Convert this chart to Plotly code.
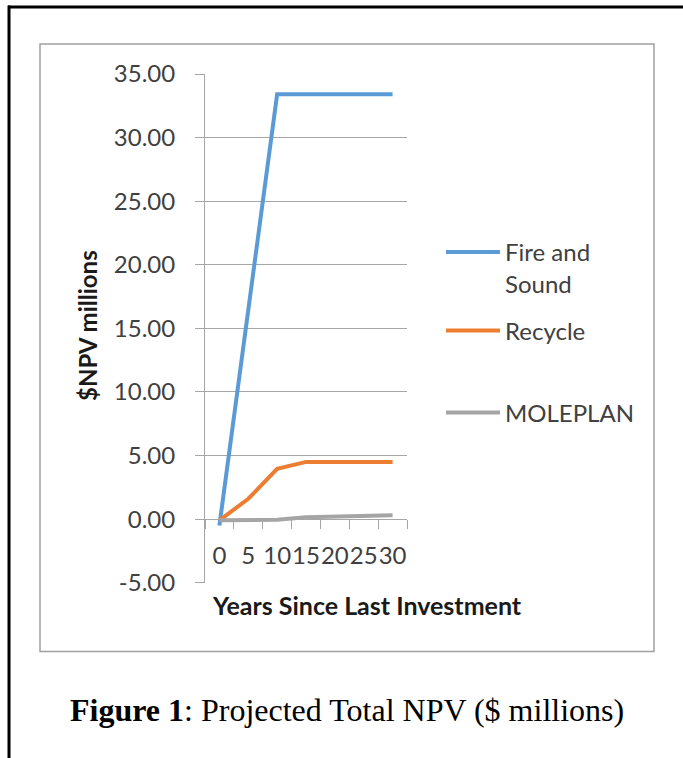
import plotly.graph_objects as go

# Projected NPV by years since last investment ($ millions)
years = ["0", "5", "10", "15", "20", "25", "30"]
fire_and_sound = [-0.5, 16.4, 33.4, 33.4, 33.4, 33.4, 33.4]
recycle = [-0.1, 1.6, 3.95, 4.5, 4.5, 4.5, 4.5]
moleplan = [-0.08, -0.08, -0.05, 0.15, 0.2, 0.25, 0.3]

series_names = ["Fire and<br>Sound", "Recycle", "MOLEPLAN"]
series_colors = ["#5B9BD5", "#ED7D31", "#A5A5A5"]

y_ticks = [-5, 0, 5, 10, 15, 20, 25, 30, 35]
y_tick_text = [f"{v:.2f}" for v in y_ticks]

W, H = 683, 758
GRID = "#A6A6A6"
FONT = "Lato"
TEXT = "#404040"


def px_x(v):
    return v / W


def px_y(v):
    return 1 - v / H


fig = go.Figure()
for name, vals, col, leg in zip(series_names, [fire_and_sound, recycle, moleplan],
                                series_colors, ["legend", "legend2", "legend3"]):
    fig.add_trace(go.Scatter(x=years, y=vals, name=name, mode="lines",
                             line=dict(color=col, width=4), legend=leg))

legend_common = dict(bgcolor="rgba(0,0,0,0)", borderwidth=0, itemwidth=54,
                     font=dict(family=FONT, size=24, color=TEXT),
                     xanchor="left", x=px_x(441))

fig.update_layout(
    template="none",
    width=W, height=H,
    margin=dict(l=0, r=0, t=0, b=0, autoexpand=False),
    paper_bgcolor="white", plot_bgcolor="white",
    font=dict(family=FONT, color=TEXT),
    showlegend=True,
    xaxis=dict(
        type="category", domain=[px_x(205), px_x(407)],
        anchor="free", position=px_y(519),
        range=[-0.5, 6.5], tickson="boundaries",
        tickmode="linear", tick0=0, dtick=1,
        ticks="outside", ticklen=9, tickcolor=GRID, tickwidth=1,
        showline=True, linecolor=GRID, linewidth=1,
        showgrid=False, zeroline=False, tickangle=0, ticklabelstandoff=15,
        tickfont=dict(family=FONT, size=24, color=TEXT),
    ),
    yaxis=dict(
        domain=[px_y(582.7), px_y(74)],
        range=[-5, 35], tickmode="array",
        tickvals=y_ticks, ticktext=y_tick_text,
        ticks="outside", ticklen=9, tickcolor=GRID, tickwidth=1,
        showline=True, linecolor=GRID, linewidth=1,
        showgrid=True, gridcolor=GRID, gridwidth=1, zeroline=False,
        ticklabelstandoff=15,
        tickfont=dict(family=FONT, size=24, color=TEXT),
    ),
    legend=dict(**legend_common, y=px_y(268), yanchor="middle", valign="top"),
    legend2=dict(**legend_common, y=px_y(331), yanchor="middle"),
    legend3=dict(**legend_common, y=px_y(413), yanchor="middle"),
    shapes=[
        # chart area border
        dict(type="rect", xref="paper", yref="paper",
             x0=px_x(40), x1=px_x(654), y0=px_y(651.5), y1=px_y(44),
             line=dict(color="#A0A0A0", width=1.5), layer="below"),
        # outer page frame (top and left rules)
        dict(type="line", xref="paper", yref="paper",
             x0=px_x(8), x1=1, y0=px_y(7), y1=px_y(7),
             line=dict(color="black", width=3)),
        dict(type="line", xref="paper", yref="paper",
             x0=px_x(9), x1=px_x(9), y0=px_y(5.5), y1=0,
             line=dict(color="black", width=3)),
    ],
    annotations=[
        dict(text="<b>$NPV millions</b>", textangle=-90,
             xref="paper", yref="paper", x=px_x(88), y=px_y(326),
             xanchor="center", yanchor="middle", showarrow=False,
             font=dict(family=FONT, size=24, color="#1a1a1a")),
        dict(text="<b>Years Since Last Investment</b>",
             xref="paper", yref="paper", x=px_x(366.5), y=px_y(605),
             xanchor="center", yanchor="middle", showarrow=False,
             font=dict(family=FONT, size=25, color="#1a1a1a")),
        dict(text="<b>Figure 1</b>: Projected Total NPV ($ millions)",
             xref="paper", yref="paper", x=px_x(347.5), y=px_y(710),
             xanchor="center", yanchor="middle", showarrow=False,
             font=dict(family="Liberation Serif", size=32, color="black")),
    ],
)

fig.write_html("out.html")
